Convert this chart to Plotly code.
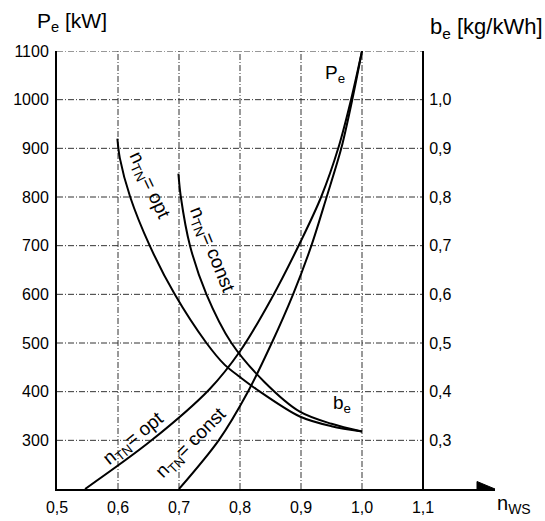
import plotly.graph_objects as go

# Engine speed ratio n_WS and effective power P_e [kW]
n_ws_pe_opt = [0.546, 0.655, 0.75, 0.80, 0.851, 0.90, 0.933, 0.961, 0.982, 1.00]
pe_opt = [200, 300, 405, 483, 590, 710, 800, 900, 1000, 1100]

n_ws_pe_const = [0.70, 0.765, 0.813, 0.852, 0.887, 0.917, 0.942, 0.966, 0.984, 1.00]
pe_const = [200, 300, 400, 500, 600, 700, 800, 900, 1000, 1100]

# Specific fuel consumption b_e [kg/kWh]
n_ws_be_opt = [0.599, 0.603, 0.62, 0.652, 0.693, 0.745, 0.775, 0.80, 0.827, 0.898, 0.95, 1.00]
be_opt = [0.920, 0.880, 0.800, 0.700, 0.600, 0.500, 0.455, 0.430, 0.405, 0.349, 0.329, 0.318]

n_ws_be_const = [0.699, 0.703, 0.718, 0.745, 0.786, 0.84, 0.898, 0.95, 1.00]
be_const = [0.848, 0.800, 0.700, 0.600, 0.500, 0.420, 0.359, 0.334, 0.318]

x_ticks = [0.5, 0.6, 0.7, 0.8, 0.9, 1.0, 1.1]
x_tick_text = ["0,5", "0,6", "0,7", "0,8", "0,9", "1,0", "1,1"]
pe_ticks = [300, 400, 500, 600, 700, 800, 900, 1000, 1100]
be_ticks = [0.3, 0.4, 0.5, 0.6, 0.7, 0.8, 0.9, 1.0]
be_tick_text = ["0,3", "0,4", "0,5", "0,6", "0,7", "0,8", "0,9", "1,0"]

FONT = "Liberation Sans, Arial, sans-serif"
X_MIN, X_MAX, X_RIGHT = 0.5, 1.218, 1.1
Y_MIN, Y_MAX = 200, 1100

fig = go.Figure()

line_style = dict(color="black", width=2, shape="spline", smoothing=0.9)
fig.add_trace(go.Scatter(x=n_ws_pe_opt, y=pe_opt, mode="lines", line=line_style))
fig.add_trace(go.Scatter(x=n_ws_pe_const, y=pe_const, mode="lines", line=line_style))
fig.add_trace(go.Scatter(x=n_ws_be_opt, y=be_opt, mode="lines", line=line_style, yaxis="y2"))
fig.add_trace(go.Scatter(x=n_ws_be_const, y=be_const, mode="lines", line=line_style, yaxis="y2"))

# dash-dot grid, limited to the framed region
grid = dict(color="#333333", width=1, dash="6px,2px,1px,2px")
for yv in pe_ticks:
    fig.add_shape(type="line", x0=X_MIN, x1=X_RIGHT, y0=yv, y1=yv, line=grid, layer="below")
for xv in x_ticks[1:-1]:
    fig.add_shape(type="line", x0=xv, x1=xv, y0=Y_MIN, y1=Y_MAX, line=grid, layer="below")

# arrow head at the end of the n_WS axis
fig.add_shape(type="path", xsizemode="pixel", ysizemode="pixel",
              xanchor=X_MAX, yanchor=Y_MIN,
              path="M -18,-7.5 L 0,0 L -18,7.5 Z",
              fillcolor="black", line=dict(color="black", width=1))

ann_font = dict(family=FONT, size=19, color="black")
labels = [
    (0.651, 823, "n<sub>TN</sub>= opt", 65),
    (0.753, 691, "n<sub>TN</sub>= const", 68),
    (0.626, 303, "n<sub>TN</sub>= opt", -39),
    (0.721, 295, "n<sub>TN</sub>= const", -45),
    (0.956, 1052, "P<sub>e</sub>", 0),
    (0.967, 374, "b<sub>e</sub>", 0),
]
for x, y, txt, ang in labels:
    fig.add_annotation(x=x, y=y, xref="x", yref="y", text=txt, textangle=ang,
                       showarrow=False, font=ann_font)

fig.add_annotation(x=-0.05, y=1.067, xref="paper", yref="paper", xanchor="left",
                   yanchor="middle", text="P<sub>e</sub> [kW]", showarrow=False,
                   font=dict(family=FONT, size=21, color="black"))
fig.add_annotation(x=0.847, y=1.052, xref="paper", yref="paper", xanchor="left",
                   yanchor="middle", text="b<sub>e</sub> [kg/kWh]", showarrow=False,
                   font=dict(family=FONT, size=22, color="black"))
fig.add_annotation(x=1.0, y=-0.036, xref="paper", yref="paper", xanchor="left",
                   yanchor="middle", text="n<sub>WS</sub>", showarrow=False,
                   font=dict(family=FONT, size=20, color="black"))

tick_font = dict(family=FONT, size=16, color="black")
fig.update_layout(
    width=545, height=521,
    margin=dict(l=57, r=50, t=51, b=32),
    paper_bgcolor="white", plot_bgcolor="white",
    showlegend=False,
    xaxis=dict(range=[X_MIN, X_MAX], tickvals=x_ticks, ticktext=x_tick_text,
               showgrid=False, zeroline=False, showline=True, linecolor="black",
               linewidth=2, ticks="", ticklabelstandoff=3, tickfont=tick_font,
               automargin=False),
    yaxis=dict(range=[Y_MIN, Y_MAX], tickvals=pe_ticks,
               ticktext=[str(v) for v in pe_ticks],
               showgrid=False, zeroline=False, showline=True, linecolor="black",
               linewidth=2, ticks="", ticklabelstandoff=3, tickfont=tick_font,
               automargin=False),
    yaxis2=dict(range=[Y_MIN / 1000, Y_MAX / 1000], tickvals=be_ticks,
                ticktext=be_tick_text, overlaying="y", side="right",
                anchor="free", position=(X_RIGHT - X_MIN) / (X_MAX - X_MIN),
                showgrid=False, zeroline=False, showline=True, linecolor="black",
                linewidth=2, ticks="", ticklabelstandoff=2, tickfont=tick_font,
                automargin=False),
)

fig.write_html("out.html")
